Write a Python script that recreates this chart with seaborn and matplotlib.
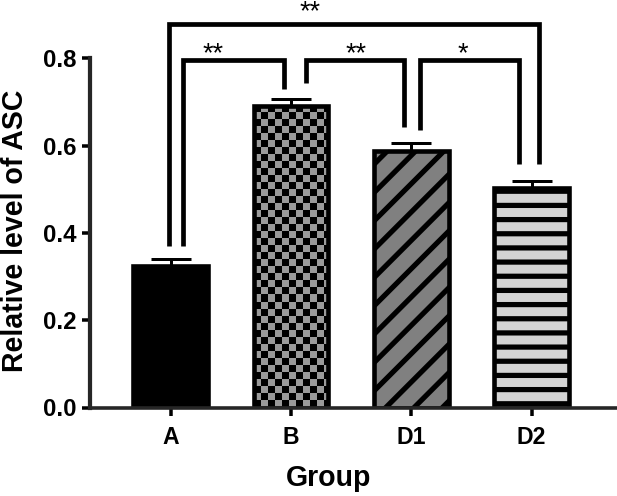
import numpy as np
import pandas as pd
import matplotlib
matplotlib.use("Agg")
import matplotlib.pyplot as plt
from matplotlib.colors import ListedColormap
import seaborn as sns

# ---------------- data ----------------
groups = ["A", "B", "D1", "D2"]
means = [0.325, 0.691, 0.588, 0.503]
sds = [0.015, 0.016, 0.019, 0.017]
yticks = [0.0, 0.2, 0.4, 0.6, 0.8]
# significance comparisons: (left leg x, right leg x, top y, left bottom, right bottom, label, label x, label y)
comparisons = [
    (0.106, 0.943, 0.796, 0.369, 0.729, "**", 0.349, 0.793),
    (1.123, 1.941, 0.796, 0.743, 0.643, "**", 1.540, 0.793),
    (2.074, 2.897, 0.796, 0.635, 0.557, "*", 2.427, 0.793),
    (-0.012, 3.063, 0.879, 0.369, 0.557, "**", 1.158, 0.889),
]

DPI = 85
def pt(px):
    return px * 72.0 / DPI

sns.set_style("ticks")
plt.rcParams["font.family"] = ["Liberation Sans", "DejaVu Sans"]
plt.rcParams["text.color"] = "black"
plt.rcParams["axes.labelcolor"] = "black"
plt.rcParams["hatch.linewidth"] = pt(5.2)

fig = plt.figure(figsize=(617 / DPI, 496 / DPI), dpi=DPI)
left_px, right_px, bottom_px, top_px = 89.5, 617, 407.5, 58.3
ax = fig.add_axes([left_px / 617, 1 - bottom_px / 496,
                   (right_px - left_px) / 617, (bottom_px - top_px) / 496])

df = pd.DataFrame({"group": groups, "value": means})
colors = {"A": "#000000", "B": "#999999", "D1": "#808080", "D2": "#d3d3d3"}
sns.barplot(data=df, x="group", y="value", hue="group", palette=colors,
            width=0.62, edgecolor="black", linewidth=pt(4.6), errorbar=None,
            legend=False, saturation=1, ax=ax)

bars = sorted(ax.patches, key=lambda p: p.get_x())
bars[2].set_hatch("/")
bars[3].set_hatch("-")

# checkerboard for B
b = bars[1]
x0, w, h = b.get_x(), b.get_width(), b.get_height()
dx, dy = 7.0 / 120.3, 7.0 / 435.9
nx, ny = int(np.ceil(w / dx)) + 1, int(np.ceil(h / dy)) + 1
cells = (np.add.outer(np.arange(ny), np.arange(nx)) % 2).astype(float)
im = ax.imshow(cells, cmap=ListedColormap(["#000000", "#9a9a9a"]),
               extent=[x0, x0 + nx * dx, h - ny * dy, h], origin="upper",
               aspect="auto", interpolation="nearest", zorder=b.get_zorder() - 0.01)
im.set_clip_path(b)
b.set_facecolor("none")

ax.errorbar(range(len(groups)), means, yerr=[np.zeros(len(sds)), sds], fmt="none",
            ecolor="black", elinewidth=pt(3), capsize=pt(20), capthick=pt(3), zorder=3)

for xl, xr, yt, yb1, yb2, lab, lx, ly in comparisons:
    ax.plot([xl, xl, xr, xr], [yb1, yt, yt, yb2], color="black", lw=pt(4.7),
            solid_joinstyle="miter", solid_capstyle="butt", clip_on=False, zorder=4)
    ax.text(lx, ly, lab, ha="center", va="baseline", fontsize=pt(27),
            color="black", clip_on=False)

ax.set_xlim(-0.675, 3.71)
ax.set_ylim(0, 0.8)
ax.set_yticks(yticks)
ax.set_yticklabels([f"{v:.1f}" for v in yticks])
for s in ["top", "right"]:
    ax.spines[s].set_visible(False)
ax.spines["left"].set_linewidth(pt(4.2))
ax.spines["bottom"].set_linewidth(pt(3.6))
ax.tick_params(axis="both", length=pt(8), width=pt(3.5), color="black",
               labelsize=pt(23), labelcolor="black")
ax.tick_params(axis="y", labelsize=pt(24), pad=pt(5))
ax.tick_params(axis="x", pad=pt(11))
for lab in ax.get_xticklabels() + ax.get_yticklabels():
    lab.set_fontweight("bold")

ax.set_xlabel("Group", fontsize=pt(28.5), fontweight="bold")
ax.set_ylabel("Relative level of ASC", fontsize=pt(28.5), fontweight="bold")
ax.xaxis.set_label_coords((329 - left_px) / (right_px - left_px), -(492 - bottom_px) / (bottom_px - top_px))
ax.xaxis.label.set_va("bottom")
ax.yaxis.set_label_coords((29 - left_px) / (right_px - left_px), 0.505)

fig.savefig("out.png", dpi=DPI)
